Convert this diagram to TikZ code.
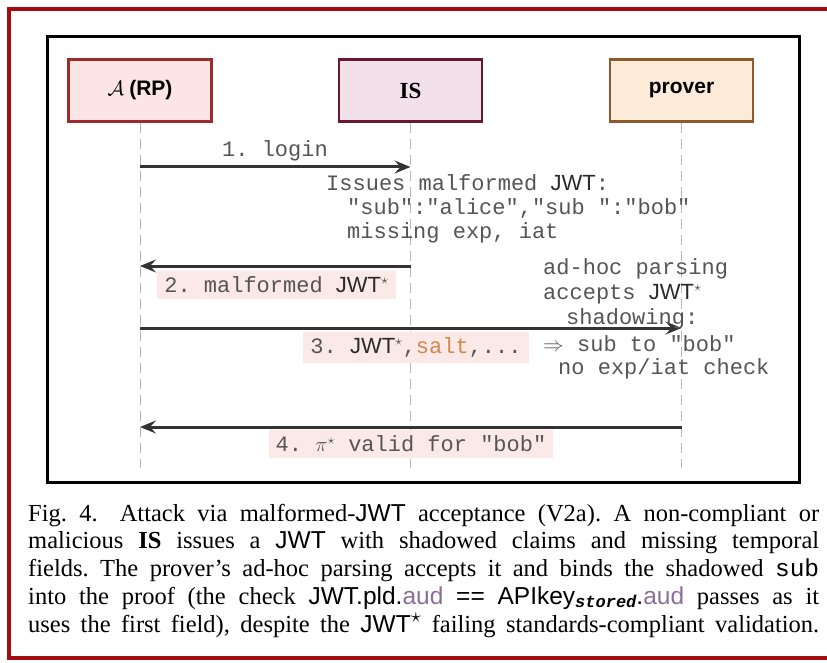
\documentclass[tikz,border=0pt]{standalone}
\usepackage{fontspec}
\setmainfont{Liberation Serif}
\setsansfont{Liberation Sans}
\setmonofont{Liberation Mono}
\usetikzlibrary{arrows.meta}
\definecolor{framered}{HTML}{A30D12}
\definecolor{arpfill}{HTML}{FCE5E4}
\definecolor{arpdraw}{HTML}{9E2B2B}
\definecolor{isfill}{HTML}{F2E1E8}
\definecolor{isdraw}{HTML}{6A1733}
\definecolor{provfill}{HTML}{FDEBD9}
\definecolor{provdraw}{HTML}{8E5A2C}
\definecolor{lifegray}{HTML}{B4B4B4}
\definecolor{arrowgray}{HTML}{333333}
\definecolor{notegray}{HTML}{555555}
\definecolor{labelpink}{HTML}{FBE9E7}
\definecolor{saltorange}{HTML}{D4874F}
\definecolor{audpurple}{HTML}{8A6F98}
\definecolor{darktext}{HTML}{2A2A2A}
\begin{document}
\begin{tikzpicture}[x=1pt,y=-1pt,
  actor/.style={draw, line width=2.8pt, minimum width=143pt, minimum height=62pt, inner sep=0pt, text=black, font=\fontsize{21}{25}\selectfont},
  lifeline/.style={draw=lifegray, line width=1pt, dash pattern=on 10pt off 6pt},
  msg/.style={draw=arrowgray, line width=3pt, -{Stealth[length=16pt,width=13pt,inset=6pt]}},
  note/.style={text=notegray, font=\ttfamily\fontsize{22}{26}\selectfont, inner sep=0pt, anchor=west},
  lbl/.style={fill=labelpink, text=notegray, font=\ttfamily\fontsize{22}{26}\selectfont, inner xsep=7pt, inner ysep=0pt, minimum height=28pt},
  wlbl/.style={fill=white, text=notegray, font=\ttfamily\fontsize{22}{26}\selectfont, inner xsep=4pt, inner ysep=0pt, minimum height=26pt}
]
\clip (0,0) rectangle (827,663);
\fill[white] (0,0) rectangle (827,663);
% outer frame
\draw[framered, line width=4pt] (850,9) -- (9,9) -- (9,658) -- (850,658);
% inner frame
\draw[black, line width=3pt] (47,37) rectangle (799,482);

% actors
\node[actor, draw=arpdraw, fill=arpfill] (A) at (140,90.5) {$\mathcal{A}$ {\sffamily\bfseries (RP)}};
\node[actor, draw=isdraw, fill=isfill, font=\fontsize{23}{27}\selectfont] (IS) at (410.5,90.5) {\bfseries IS};
\node[actor, draw=provdraw, fill=provfill] (P) at (681.5,90.5) {\sffamily\bfseries prover};

% lifeline ends
\coordinate (Aend) at (140,468);
\coordinate (Iend) at (410.5,468);
\coordinate (Pend) at (681.5,468);
\draw[lifeline] (A.south) -- (Aend);
\draw[lifeline] (IS.south) -- (Iend);
\draw[lifeline] (P.south) -- (Pend);

% message end points
\coordinate (A1) at (140,167);
\coordinate (I1) at (410.5,167);
\coordinate (I2) at (410.5,266);
\coordinate (A2) at (140,266);
\coordinate (A3) at (140,328);
\coordinate (P3) at (681.5,328);
\coordinate (P4) at (681.5,427);
\coordinate (A4) at (140,427);

\draw[msg] (A1) -- (I1);
\draw[msg] (I2) -- (A2);
\draw[msg] (A3) -- (P3);
\draw[msg] (P4) -- (A4);

% labels
\node[wlbl] (l1) at (275,151) {1. login};
\node[lbl] (l2) at (276.5,284.5) {2. malformed {\sffamily\color{darktext}JWT}$^{\star}$};
\node[lbl, minimum height=31pt] (l3) at (416,347.5) {3. {\sffamily\color{darktext}JWT}$^{\star}$,{\color{saltorange}salt},...};
\node[lbl] (l4) at (411,444) {4. $\pi^{\star}$ valid for "bob"};

% notes
\node[note] (n1) at (326,183) {Issues malformed {\sffamily\color{darktext}JWT}:};
\node[note] (n2) at (347,208) {"sub":"alice","sub~":"bob"};
\node[note] (n3) at (347,233) {missing exp, iat};
\node[note] (n4) at (543,269) {ad-hoc parsing};
\node[note] (n5) at (543,294) {accepts {\sffamily\color{darktext}JWT}$^{\star}$};
\node[note] (n6) at (566,319) {shadowing:};
\node[note] (n7) at (543,344) {$\Rightarrow$ sub to "bob"};
\node[note] (n8) at (558,369) {no exp/iat check};

% caption
\node[anchor=base west, inner sep=0pt, text=black] (cap) at (28,521) {\parbox[t]{791pt}{\fontsize{24.5}{27.75}\selectfont\frenchspacing\parfillskip=0pt
Fig.~4.\hspace{0.9em}Attack via malformed-{\sffamily JWT} acceptance (V2a). A non-compliant or\linebreak
malicious \textbf{IS} issues a {\sffamily JWT} with shadowed claims and missing temporal\linebreak
fields. The prover's ad-hoc parsing accepts it and binds the shadowed \texttt{sub}\linebreak
into the proof (the check {\sffamily JWT.pld.}{\sffamily\color{audpurple}aud} {\sffamily ==} {\sffamily APIkey}\raisebox{-3.5pt}{\fontsize{17}{18}\selectfont\ttfamily\itshape\bfseries stored}{\sffamily .}{\sffamily\color{audpurple}aud} passes as it\linebreak
uses the first field), despite the {\sffamily JWT}\textsuperscript{\fontsize{20}{20}\selectfont$\star$} failing standards-compliant validation.}};
\end{tikzpicture}
\end{document}
